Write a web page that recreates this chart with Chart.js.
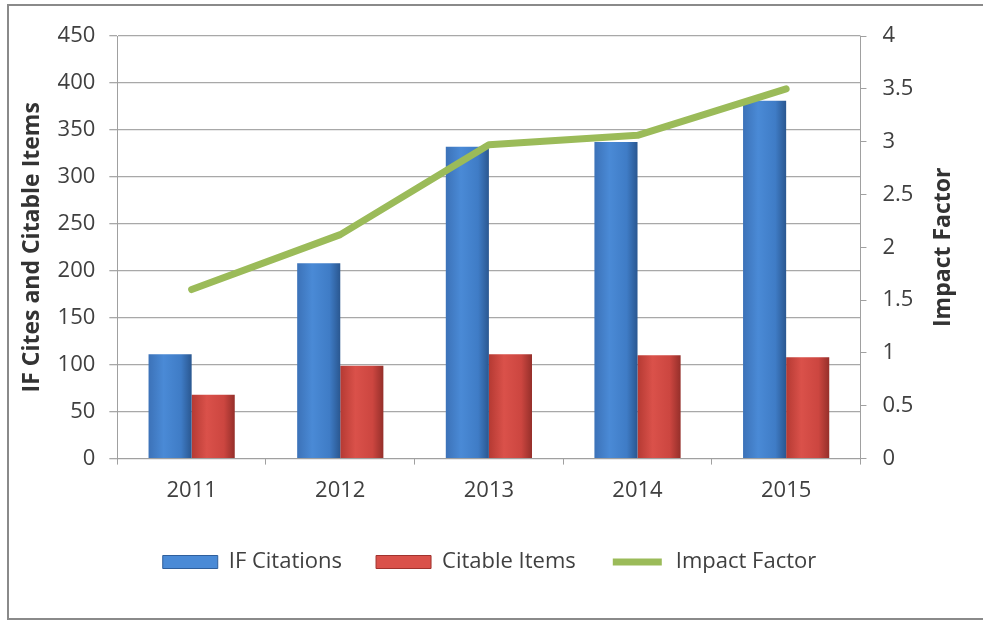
<!DOCTYPE html>
<html><head><meta charset="utf-8">
<script src="https://cdn.jsdelivr.net/npm/chart.js@4.4.1/dist/chart.umd.min.js"></script>
<style>
html,body{margin:0;padding:0;background:#fff;overflow:hidden;}
#wrap{position:absolute;left:0;top:0;width:983px;height:620px;}
#frame{position:absolute;left:7px;top:4px;width:1010px;height:612px;border:2px solid #8a8a8a;pointer-events:none;}
</style></head>
<body>
<div id="wrap"><canvas id="c" width="983" height="620"></canvas></div>
<div id="frame"></div>
<script>
const years = ['2011','2012','2013','2014','2015'];
const ifCitations = [111, 208, 332, 337, 381];
const citableItems = [68, 99, 111, 110, 108];
const impactFactor = [1.60, 2.12, 2.97, 3.06, 3.50];
const leftTicks = [0,50,100,150,200,250,300,350,400,450];
const rightTicks = [0,0.5,1,1.5,2,2.5,3,3.5,4];

const CAT_PCT = 0.58;
function barGradient(ctx, side, stops) {
  const chart = ctx.chart;
  const xs = chart.scales && chart.scales.x;
  if (!xs || !chart.chartArea || ctx.dataIndex === undefined) return stops[1];
  const c = xs.getPixelForValue(ctx.dataIndex);
  const w = xs.width / years.length * CAT_PCT / 2;
  const x0 = side === 0 ? c - w : c;
  const g = chart.ctx.createLinearGradient(x0, 0, x0 + w, 0);
  g.addColorStop(0, stops[0]);
  g.addColorStop(0.35, stops[1]);
  g.addColorStop(0.75, stops[2]);
  g.addColorStop(1, stops[3]);
  return g;
}
const blueStops = ['#3c72b8', '#4a8ad6', '#3f7cc6', '#2a5790'];
const redStops = ['#b53a33', '#da514a', '#cc4640', '#952f2a'];

const rightTitlePlugin = {
  id: 'rightTitle',
  afterDraw(chart) {
    const s = chart.scales.y1;
    const ctx = chart.ctx;
    ctx.save();
    ctx.font = 'bold 23px "Open Sans"';
    ctx.fillStyle = '#333333';
    ctx.textAlign = 'center';
    ctx.textBaseline = 'middle';
    ctx.translate(s.right - 20, (s.top + s.bottom) / 2);
    ctx.rotate(-Math.PI / 2);
    ctx.fillText('Impact Factor', 0, 0);
    ctx.restore();
  }
};

new Chart(document.getElementById('c'), {
  data: {
    labels: years,
    datasets: [
      { type: 'line', label: 'Impact Factor', data: impactFactor, yAxisID: 'y1',
        borderColor: '#9bbb59', backgroundColor: '#9bbb59', borderWidth: 7,
        borderCapStyle: 'round', borderJoinStyle: 'round', pointRadius: 0, tension: 0, order: 0 },
      { type: 'bar', label: 'IF Citations', data: ifCitations, yAxisID: 'y',
        backgroundColor: (ctx) => barGradient(ctx, 0, blueStops), borderWidth: 0,
        categoryPercentage: CAT_PCT, barPercentage: 1, order: 1 },
      { type: 'bar', label: 'Citable Items', data: citableItems, yAxisID: 'y',
        backgroundColor: (ctx) => barGradient(ctx, 1, redStops), borderWidth: 0,
        categoryPercentage: CAT_PCT, barPercentage: 1, order: 2 }
    ]
  },
  options: {
    responsive: false,
    animation: false,
    layout: { padding: { left: 16, right: 20, top: 36, bottom: 37 } },
    plugins: {
      tooltip: { enabled: false },
      legend: {
        position: 'bottom',
        labels: {
          font: { family: 'Open Sans', size: 22 }, color: '#404040',
          boxWidth: 55, boxHeight: 13, padding: 34,
          generateLabels(chart) {
            const order = ['IF Citations','Citable Items','Impact Factor'];
            const m = { 'IF Citations': ['#4a8ad6', '#2f5f9c', 1], 'Citable Items': ['#da514a', '#a0332e', 1], 'Impact Factor': ['#9bbb59', '#ffffff', 6] };
            return chart.data.datasets.map((d, i) => ({
              text: d.label, fillStyle: m[d.label][0], strokeStyle: m[d.label][1], lineWidth: m[d.label][2],
              hidden: false, datasetIndex: i, fontColor: '#404040'
            })).sort((a, b) => order.indexOf(a.text) - order.indexOf(b.text));
          }
        }
      }
    },
    scales: {
      x: {
        ticks: { font: { family: 'Open Sans', size: 22 }, color: '#404040', padding: 13 },
        grid: { display: true, drawOnChartArea: false, tickLength: 6, color: '#a0a0a0', offset: true },
        border: { display: true, color: '#a0a0a0' }
      },
      y: {
        position: 'left', min: 0, max: 450,
        afterBuildTicks: (s) => { s.ticks = leftTicks.map(v => ({ value: v })); },
        ticks: { font: { family: 'Open Sans', size: 22 }, color: '#404040', padding: 14 },
        grid: { color: '#a8a8a8', lineWidth: 1.3, tickLength: 8 },
        border: { display: true, color: '#a0a0a0' },
        title: { display: true, text: 'IF Cites and Citable Items', font: { family: 'Open Sans', size: 23, weight: 'bold' }, color: '#333333', padding: { top: 3, bottom: -3 } }
      },
      y1: {
        position: 'right', min: 0, max: 4,
        afterBuildTicks: (s) => { s.ticks = rightTicks.map(v => ({ value: v })); },
        ticks: { font: { family: 'Open Sans', size: 22 }, color: '#404040', padding: 16, callback: (v) => String(v) },
        grid: { drawOnChartArea: false, tickLength: 6, color: '#a0a0a0' },
        border: { display: true, color: '#a0a0a0' },
        title: { display: true, text: 'Impact Factor', font: { family: 'Open Sans', size: 23, weight: 'bold' }, color: 'rgba(0,0,0,0)', padding: { top: 6, bottom: 0 } }
      }
    }
  },
  plugins: [rightTitlePlugin]
});
</script>
</body></html>
